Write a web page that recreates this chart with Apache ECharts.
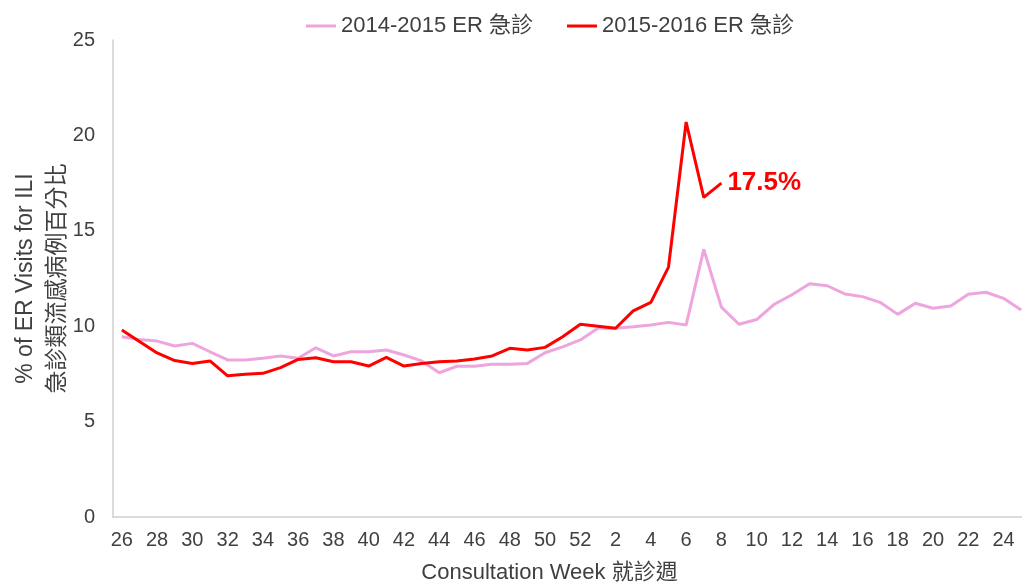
<!DOCTYPE html>
<html>
<head>
<meta charset="utf-8">
<script src="https://cdn.jsdelivr.net/npm/echarts@6/dist/echarts.min.js"></script>
<style>
  html, body { margin: 0; padding: 0; background: #fff; }
  #chart { width: 1022px; height: 583px; }
</style>
</head>
<body>
<div id="chart"></div>
<script>
// consultation weeks: 26..52 then 1..25
const weeks = [26, 27, 28, 29, 30, 31, 32, 33, 34, 35, 36, 37, 38, 39, 40, 41, 42, 43, 44, 45,
  46, 47, 48, 49, 50, 51, 52, 1, 2, 3, 4, 5, 6, 7, 8, 9, 10, 11, 12, 13, 14, 15, 16, 17, 18,
  19, 20, 21, 22, 23, 24, 25];

// 2014-2015 ER
const season1415 = [9.45, 9.3, 9.22, 8.96, 9.1, 8.66, 8.23, 8.23, 8.32, 8.44, 8.32, 8.87, 8.44,
  8.66, 8.66, 8.75, 8.49, 8.18, 7.56, 7.9, 7.9, 8.0, 8.0, 8.05, 8.61, 8.92, 9.28, 9.89, 9.89,
  9.97, 10.06, 10.2, 10.06, 14.03, 11.0, 10.1, 10.35, 11.15, 11.65, 12.22, 12.12, 11.69, 11.55,
  11.25, 10.62, 11.2, 10.94, 11.06, 11.67, 11.78, 11.46, 10.85];

// 2015-2016 ER (up to week 8)
const season1516 = [9.8, 9.2, 8.6, 8.2, 8.05, 8.18, 7.4, 7.48, 7.53, 7.83, 8.26, 8.35, 8.14,
  8.14, 7.91, 8.37, 7.91, 8.05, 8.14, 8.18, 8.28, 8.44, 8.84, 8.75, 8.89, 9.45, 10.1, 10.0,
  9.89, 10.8, 11.25, 13.1, 20.7, 16.75, 17.5];

const latestLabel = '17.5%';

const font = '"Liberation Sans", Arial, "Noto Sans CJK TC", sans-serif';
const textColor = '#404040';

const chart = echarts.init(document.getElementById('chart'));

chart.setOption({
  animation: false,
  textStyle: { fontFamily: font },
  legend: {
    top: 10,
    left: 301,
    itemWidth: 30,
    itemHeight: 3,
    itemGap: 34,
    icon: 'rect',
    textStyle: { fontSize: 22, color: textColor, fontFamily: font },
    data: ['2014-2015 ER 急診', '2015-2016 ER 急診']
  },
  grid: { left: 113, right: -8, top: 40, bottom: 66, containLabel: false, outerBoundsMode: 'none' },
  xAxis: {
    type: 'category',
    data: weeks,
    boundaryGap: true,
    name: 'Consultation Week 就診週',
    nameLocation: 'middle',
    nameGap: 45,
    nameMoveOverlap: false,
    nameTextStyle: { fontSize: 22, color: textColor, fontFamily: font, padding: [0, 44, 0, 0] },
    axisLine: { lineStyle: { color: '#d0d0d0', width: 1.5 } },
    axisTick: { show: false },
    axisLabel: { interval: 1, fontSize: 20, color: textColor, margin: 13 }
  },
  yAxis: {
    type: 'value',
    min: 0,
    max: 25,
    interval: 5,
    name: '% of ER Visits for ILI\n急診類流感病例百分比',
    nameLocation: 'middle',
    nameRotate: 90,
    nameGap: 39,
    nameMoveOverlap: false,
    nameTextStyle: { fontSize: 23, color: textColor, lineHeight: 32, fontFamily: font },
    axisLine: { show: true, lineStyle: { color: '#d0d0d0', width: 1.5 } },
    axisTick: { show: false },
    splitLine: { show: false },
    axisLabel: { fontSize: 20, color: textColor, margin: 18 }
  },
  series: [
    {
      name: '2014-2015 ER 急診',
      type: 'line',
      data: season1415,
      symbol: 'none',
      itemStyle: { color: '#eea5de' },
      lineStyle: { color: '#eea5de', width: 3 }
    },
    {
      name: '2015-2016 ER 急診',
      type: 'line',
      data: season1516,
      symbol: 'none',
      itemStyle: { color: '#ff0000' },
      lineStyle: { color: '#ff0000', width: 3 },
      endLabel: {
        show: true,
        formatter: latestLabel,
        distance: 6,
        color: '#ff0000',
        fontSize: 26,
        fontWeight: 'bold',
        fontFamily: font
      }
    }
  ]
});
</script>
</body>
</html>
